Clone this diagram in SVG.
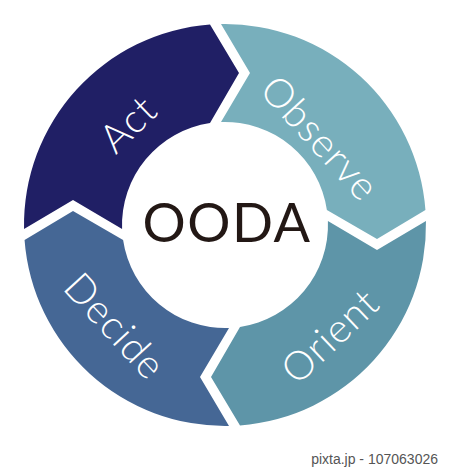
<svg xmlns="http://www.w3.org/2000/svg" width="450" height="469" viewBox="0 0 450 469">
  <style>
    .lbl { font-family: Lato, "Noto Sans", sans-serif; font-weight: 300; font-size: 40px; fill: #ffffff; text-anchor: middle; letter-spacing: 1px; }
    .center { font-family: Lato, "Noto Sans", sans-serif; font-weight: 400; font-size: 54px; fill: #231815; text-anchor: middle; letter-spacing: 1.5px; }
    .credit { font-family: "Liberation Sans", Arial, sans-serif; font-size: 14px; fill: #555555; text-anchor: end; }
  </style>
  <rect width="450" height="469" fill="#ffffff"/>
  <g id="connectors"></g>
  <g id="act">
    <path d="M24.04,229 A201,201 0 0 1 210,24.56 L239,73 L210,123.1 A103,103 0 0 0 122.08,229 L73,200 Z" fill="#201f65"/>
    <text class="lbl" transform="translate(128,124) rotate(-44)" y="14">Act</text>
  </g>
  <g id="observe">
    <path d="M221,24.04 A201,201 0 0 1 425.44,210 L377,239 L326.9,210 A103,103 0 0 0 221,122.08 L250,73 Z" fill="#78afbc"/>
    <text class="lbl" transform="translate(320,138) rotate(47.5)" y="14">Observe</text>
  </g>
  <g id="orient">
    <path d="M425.96,221 A201,201 0 0 1 240,425.44 L211,377 L240,326.9 A103,103 0 0 0 327.92,221 L377,250 Z" fill="#5e95a8"/>
    <text class="lbl" transform="translate(330,336) rotate(-43.5)" y="14">Orient</text>
  </g>
  <g id="decide">
    <path d="M229,425.96 A201,201 0 0 1 24.56,240 L73,211 L123.1,240 A103,103 0 0 0 229,327.92 L200,377 Z" fill="#456795"/>
    <text class="lbl" transform="translate(115,326) rotate(47.4)" y="14">Decide</text>
  </g>
  <g id="ooda">
    <text class="center" x="227" y="242">OODA</text>
  </g>
  <text class="credit" x="438" y="464">pixta.jp - 107063026</text>
</svg>
